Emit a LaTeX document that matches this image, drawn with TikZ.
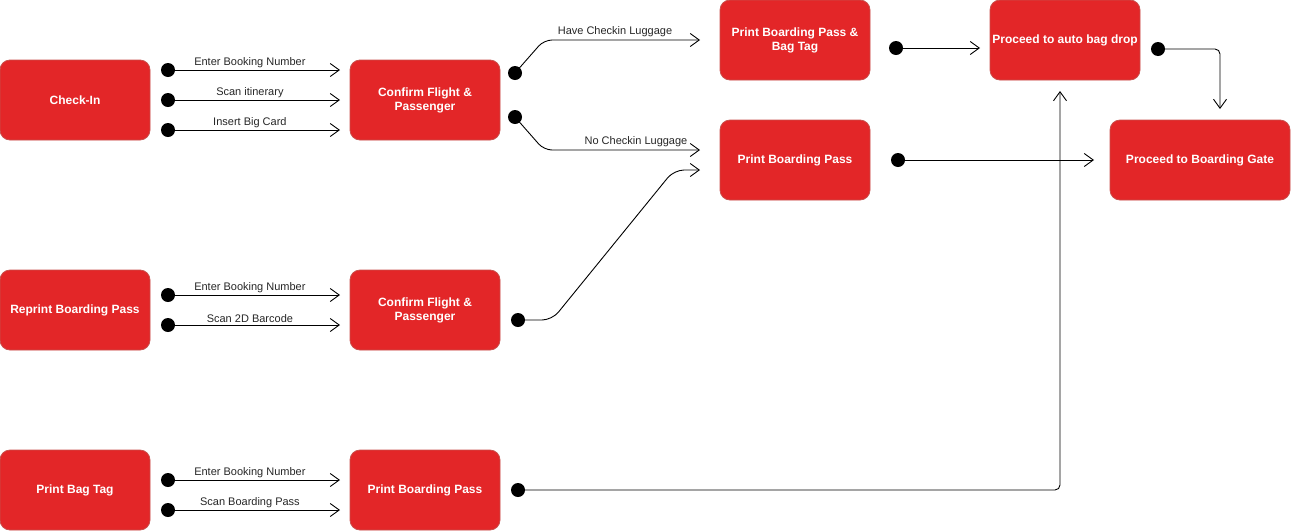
\documentclass[tikz,border=0pt]{standalone}
\usepackage{fontspec}
\setmainfont{Liberation Sans}
\usetikzlibrary{arrows.meta}
\definecolor{boxred}{HTML}{E32628}
\definecolor{boxline}{HTML}{C8504C}
\tikzset{
  box/.style={draw=boxline, line width=0.8pt, fill=boxred, rounded corners=10pt,
    minimum width=150pt, minimum height=80pt, inner sep=1pt, outer sep=0pt,
    text=white, align=center, font=\bfseries\fontsize{12}{14}\selectfont},
  dot/.style={circle, fill=black, minimum size=14pt, inner sep=0pt, outer sep=0pt},
  arr/.style={draw=black, line width=0.9pt, -{Straight Barb[length=9pt,width=13pt,line width=0.9pt]}},
  lbl/.style={font=\fontsize{11}{13}\selectfont, text=black!85, inner sep=1.5pt, anchor=south}
}
\begin{document}
\begin{tikzpicture}[x=1pt,y=-1pt]
\useasboundingbox (0,0) rectangle (1291,531);
% boxes
\node[box] (checkin) at (75,100) {Check-In};
\node[box] (conf1) at (425,100) {Confirm Flight \&\\Passenger};
\node[box] (pbpbag) at (795,40) {Print Boarding Pass \&\\Bag Tag};
\node[box] (auto) at (1065,40) {Proceed to auto bag drop};
\node[box] (pbp1) at (795,160) {Print Boarding Pass};
\node[box, minimum width=180pt] (gate) at (1200,160) {Proceed to Boarding Gate};
\node[box] (reprint) at (75,310) {Reprint Boarding Pass};
\node[box] (conf2) at (425,310) {Confirm Flight \&\\Passenger};
\node[box] (bagtag) at (75,490) {Print Bag Tag};
\node[box] (pbp2) at (425,490) {Print Boarding Pass};
% dots
\node[dot] (a1) at (168,70) {};
\node[dot] (a2) at (168,100) {};
\node[dot] (a3) at (168,130) {};
\node[dot] (c1a) at (515,73) {};
\node[dot] (c1b) at (515,117) {};
\node[dot] (pb) at (896,48) {};
\node[dot] (au) at (1158,49) {};
\node[dot] (p1) at (898,160) {};
\node[dot] (r1) at (168,295) {};
\node[dot] (r2) at (168,325) {};
\node[dot] (c2) at (518,320) {};
\node[dot] (b1) at (168,480) {};
\node[dot] (b2) at (168,510) {};
\node[dot] (p2) at (518,490) {};
% coordinates
\coordinate (hc) at (700,40);
\coordinate (nc) at (700,150);
\coordinate (rc) at (700,170);
\coordinate (upend) at (1060,91);
\coordinate (downend) at (1220,109);
% check-in arrows
\draw[arr, shorten >=10pt] (a1.center) -- node[lbl, pos=0.45]{Enter Booking Number} (a1 -| conf1.west);
\draw[arr, shorten >=10pt] (a2.center) -- node[lbl, pos=0.45]{Scan itinerary} (a2 -| conf1.west);
\draw[arr, shorten >=10pt] (a3.center) -- node[lbl, pos=0.45]{Insert Big Card} (a3 -| conf1.west);
% reprint arrows
\draw[arr, shorten >=10pt] (r1.center) -- node[lbl, pos=0.45]{Enter Booking Number} (r1 -| conf2.west);
\draw[arr, shorten >=10pt] (r2.center) -- node[lbl, pos=0.45]{Scan 2D Barcode} (r2 -| conf2.west);
% bag tag arrows
\draw[arr, shorten >=10pt] (b1.center) -- node[lbl, pos=0.45]{Enter Booking Number} (b1 -| pbp2.west);
\draw[arr, shorten >=10pt] (b2.center) -- node[lbl, pos=0.45]{Scan Boarding Pass} (b2 -| pbp2.west);
% confirm 1 branches
\draw[arr, rounded corners=8pt] (c1a.center) -- (544,40) -- (hc);
\node[lbl] at (615,38) {Have Checkin Luggage};
\draw[arr, rounded corners=8pt] (c1b.center) -- (544,150) -- (nc);
\node[lbl] at (636,148) {No Checkin Luggage};
% confirm 2 to print boarding pass
\draw[arr, rounded corners=10pt] (c2.center) -- (552,320) -- (674,170) -- (rc);
% right side
\draw[arr, shorten >=10pt] (pb.center) -- (pb -| auto.west);
\draw[arr, shorten >=16pt] (p1.center) -- (p1 -| gate.west);
\draw[arr, rounded corners=5pt] (au.center) -- (au -| downend) -- (downend);
\draw[arr, rounded corners=5pt] (p2.center) -- (p2 -| upend) -- (upend);
\end{tikzpicture}
\end{document}
